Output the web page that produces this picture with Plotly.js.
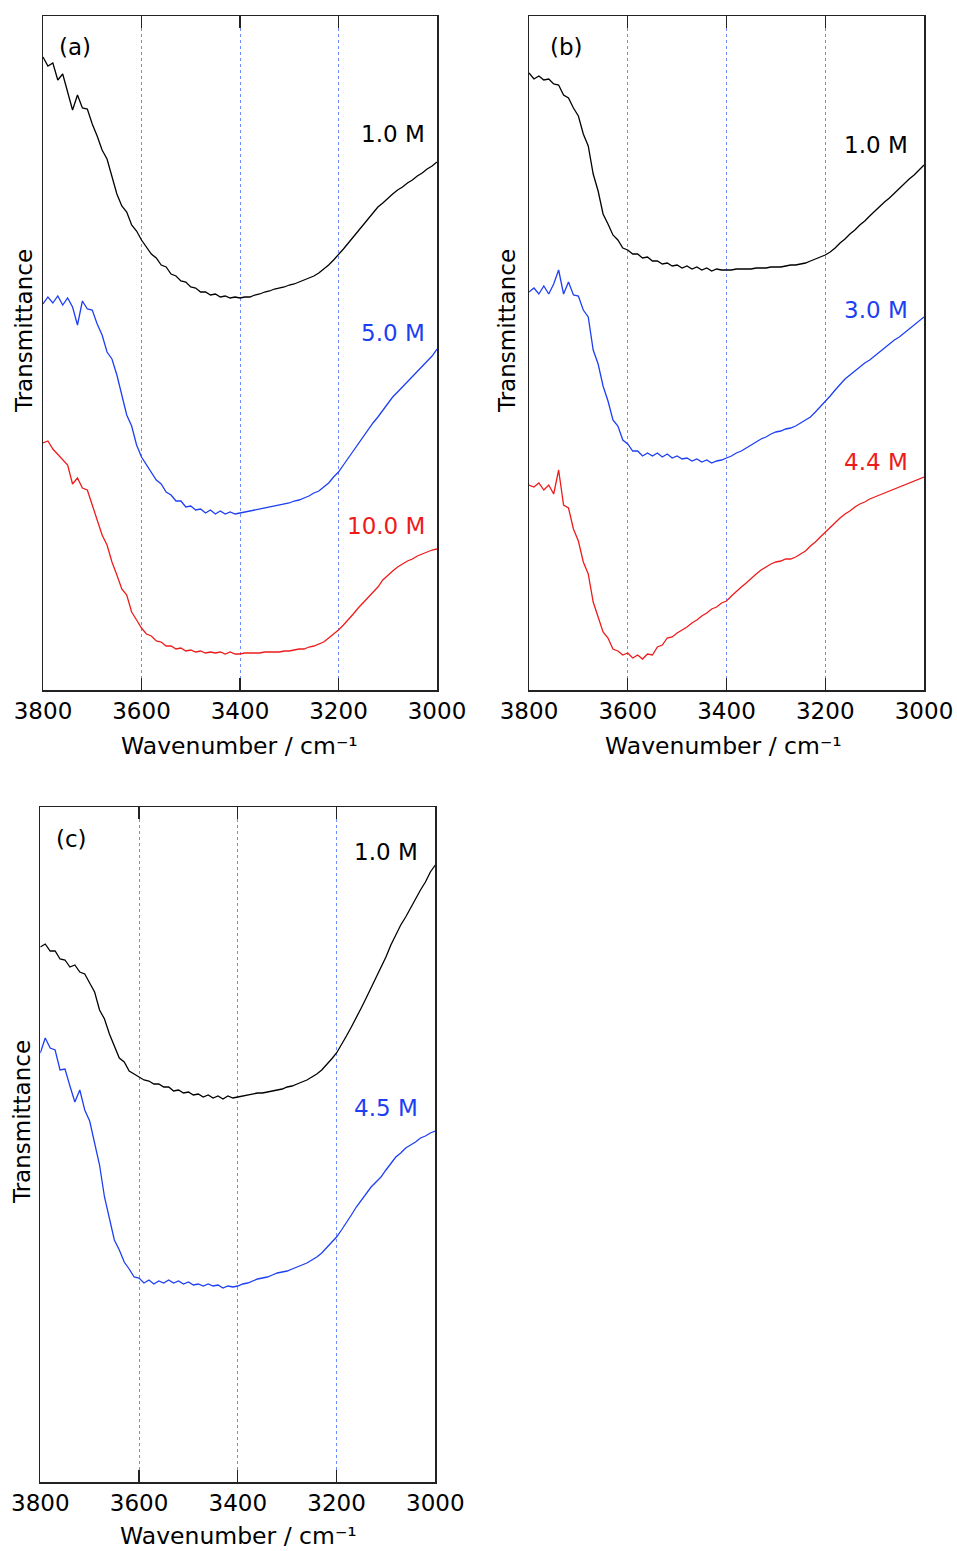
<!DOCTYPE html>
<html>
<head>
<meta charset="utf-8">
<script src="https://cdn.plot.ly/plotly-3.0.1.min.js"></script>
<style>
  html, body { margin: 0; padding: 0; background: #fff; }
  #chart { width: 957px; height: 1551px; }
</style>
</head>
<body>
<div id="chart"></div>
<script>
// Wavenumber grid (cm^-1), shared by every spectrum
const wavenumber = [
  3800, 3790, 3780, 3770, 3760, 3750, 3740, 3730, 3720, 3710,
  3700, 3690, 3680, 3670, 3660, 3650, 3640, 3630, 3620, 3610,
  3600, 3590, 3580, 3570, 3560, 3550, 3540, 3530, 3520, 3510,
  3500, 3490, 3480, 3470, 3460, 3450, 3440, 3430, 3420, 3410,
  3400, 3390, 3380, 3370, 3360, 3350, 3340, 3330, 3320, 3310,
  3300, 3290, 3280, 3270, 3260, 3250, 3240, 3230, 3220, 3210,
  3200, 3190, 3180, 3170, 3160, 3150, 3140, 3130, 3120, 3110,
  3100, 3090, 3080, 3070, 3060, 3050, 3040, 3030, 3020, 3010,
  3000
];

// Panel (a): transmittance (arb. units, offset spectra)
const a_1M = [
  63.3, 62.4, 62.7, 61.0, 61.6, 59.9, 58.0, 59.5, 58.2, 58.1,
  56.6, 55.4, 54.0, 53.1, 51.4, 49.6, 48.4, 47.8, 46.5, 45.9,
  45.0, 44.3, 43.6, 43.2, 42.5, 42.3, 41.6, 41.4, 40.9, 40.8,
  40.3, 40.2, 39.8, 39.8, 39.5, 39.6, 39.3, 39.4, 39.2, 39.3,
  39.2, 39.3, 39.3, 39.5, 39.6, 39.8, 39.9, 40.1, 40.2, 40.3,
  40.5, 40.6, 40.8, 41.0, 41.2, 41.4, 41.7, 42.1, 42.5, 43.0,
  43.5, 44.1, 44.7, 45.3, 46.0, 46.6, 47.2, 47.7, 48.3, 48.7,
  49.2, 49.6, 50.0, 50.3, 50.7, 51.0, 51.4, 51.7, 52.1, 52.4,
  52.8
];
const a_5M = [
  38.6, 39.3, 38.7, 39.4, 38.5, 39.2, 38.3, 36.5, 38.9, 38.1,
  38.0, 36.6, 35.5, 33.8, 33.1, 31.5, 29.5, 27.5, 26.4, 24.5,
  23.3, 22.5, 21.7, 21.0, 20.6, 19.8, 19.5, 18.9, 18.9, 18.3,
  18.4, 18.0, 18.1, 17.7, 18.0, 17.6, 17.9, 17.6, 17.8, 17.6,
  17.7, 17.8, 17.9, 18.0, 18.1, 18.2, 18.3, 18.4, 18.5, 18.6,
  18.7, 18.9, 19.0, 19.2, 19.4, 19.7, 19.9, 20.3, 20.7, 21.3,
  21.8, 22.5, 23.2, 23.9, 24.7, 25.4, 26.0, 26.7, 27.3, 28.0,
  28.7, 29.3, 29.8, 30.3, 30.8, 31.3, 31.8, 32.3, 32.8, 33.4,
  34.1
];
const a_10M = [
  24.7, 24.9, 24.1, 23.6, 23.1, 22.5, 20.6, 21.2, 20.2, 20.0,
  18.5, 16.9, 15.5, 14.5, 12.8, 11.5, 10.1, 9.5, 7.8, 7.0,
  6.2, 5.6, 5.4, 4.9, 4.8, 4.4, 4.4, 4.1, 4.2, 3.9,
  4.0, 3.8, 3.9, 3.7, 3.8, 3.7, 3.8, 3.6, 3.8, 3.6,
  3.6, 3.7, 3.7, 3.7, 3.7, 3.8, 3.8, 3.8, 3.8, 3.9,
  3.9, 4.0, 4.1, 4.1, 4.3, 4.4, 4.6, 4.8, 5.2, 5.6,
  6.0, 6.5, 7.0, 7.6, 8.2, 8.7, 9.3, 9.8, 10.3, 11.0,
  11.5, 11.9, 12.3, 12.6, 12.9, 13.1, 13.4, 13.6, 13.8, 14.0,
  14.1
];

// Panel (b)
const b_1M = [
  61.7, 61.1, 61.4, 61.0, 61.1, 60.6, 60.5, 59.5, 59.2, 58.2,
  57.4, 55.6, 54.4, 51.6, 49.9, 47.6, 46.6, 45.5, 45.0, 44.2,
  44.0, 43.6, 43.6, 43.2, 43.3, 42.9, 42.9, 42.6, 42.7, 42.4,
  42.5, 42.2, 42.4, 42.1, 42.3, 42.0, 42.2, 41.9, 42.1, 42.0,
  42.0, 42.0, 42.1, 42.1, 42.1, 42.1, 42.2, 42.2, 42.2, 42.3,
  42.3, 42.3, 42.4, 42.5, 42.5, 42.6, 42.7, 42.9, 43.1, 43.3,
  43.5, 43.8, 44.2, 44.7, 45.1, 45.6, 46.0, 46.5, 46.9, 47.4,
  47.9, 48.3, 48.8, 49.2, 49.7, 50.2, 50.6, 51.1, 51.5, 52.0,
  52.5
];
const b_3M = [
  39.8, 40.2, 39.6, 40.4, 39.6, 40.6, 42.0, 39.6, 40.8, 39.5,
  39.4, 38.0, 37.3, 34.0, 32.6, 30.4, 28.9, 27.0, 26.4, 25.0,
  24.6, 23.9, 23.9, 23.4, 23.7, 23.4, 23.7, 23.3, 23.6, 23.2,
  23.4, 23.1, 23.2, 22.9, 23.1, 22.8, 23.0, 22.7, 22.9, 23.0,
  23.2, 23.4, 23.7, 23.9, 24.2, 24.5, 24.8, 25.1, 25.3, 25.6,
  25.8, 25.9, 26.1, 26.2, 26.4, 26.7, 27.0, 27.3, 27.8, 28.3,
  28.8, 29.4, 30.0, 30.6, 31.1, 31.5, 31.9, 32.3, 32.7, 33.0,
  33.4, 33.8, 34.2, 34.6, 35.0, 35.3, 35.7, 36.1, 36.5, 36.9,
  37.3
];
const b_44M = [
  20.5, 20.3, 20.7, 20.0, 20.5, 19.6, 22.0, 18.5, 18.2, 16.1,
  14.9, 12.8, 11.6, 8.8, 7.3, 5.8, 5.2, 4.1, 3.9, 3.5,
  3.7, 3.2, 3.5, 3.1, 3.6, 3.5, 4.3, 4.5, 5.2, 5.3,
  5.7, 6.0, 6.3, 6.7, 7.0, 7.4, 7.7, 8.1, 8.3, 8.7,
  8.9, 9.4, 9.9, 10.3, 10.7, 11.2, 11.6, 12.0, 12.3, 12.6,
  12.8, 12.9, 13.1, 13.1, 13.3, 13.6, 13.9, 14.4, 14.8, 15.3,
  15.8, 16.3, 16.7, 17.2, 17.6, 17.9, 18.3, 18.6, 18.8, 19.1,
  19.3, 19.5, 19.7, 19.9, 20.1, 20.3, 20.5, 20.7, 20.9, 21.1,
  21.3
];

// Panel (c)
const c_1M = [
  53.5, 53.8, 53.1, 53.1, 52.3, 52.2, 51.5, 51.7, 51.0, 50.8,
  49.9, 49.0, 47.2, 46.3, 44.8, 43.6, 42.4, 42.0, 41.1, 40.8,
  40.5, 40.2, 40.1, 39.8, 39.8, 39.5, 39.5, 39.1, 39.2, 38.9,
  39.0, 38.7, 38.8, 38.5, 38.7, 38.4, 38.6, 38.3, 38.6, 38.4,
  38.5, 38.6, 38.7, 38.8, 38.9, 38.9, 39.0, 39.1, 39.2, 39.3,
  39.5, 39.6, 39.8, 40.0, 40.2, 40.5, 40.8, 41.2, 41.7, 42.3,
  42.9, 43.7, 44.6, 45.5, 46.4, 47.4, 48.4, 49.4, 50.5, 51.5,
  52.5, 53.7, 54.7, 55.7, 56.5, 57.4, 58.4, 59.2, 60.0, 61.0,
  61.7
];
const c_45M = [
  42.9, 44.4, 43.4, 43.2, 41.2, 41.3, 39.6, 38.0, 39.2, 37.2,
  36.1, 33.8, 31.7, 28.5, 26.4, 24.2, 23.2, 22.0, 21.3, 20.5,
  20.4, 19.9, 20.2, 19.8, 20.1, 19.9, 20.2, 19.9, 20.1, 19.8,
  20.0, 19.7, 19.8, 19.6, 19.8, 19.6, 19.7, 19.4, 19.6, 19.5,
  19.6, 19.8, 19.9, 20.1, 20.3, 20.4, 20.5, 20.7, 20.9, 21.0,
  21.1, 21.3, 21.5, 21.7, 21.9, 22.2, 22.5, 22.9, 23.4, 23.9,
  24.5, 25.2, 25.9, 26.7, 27.5, 28.2, 28.9, 29.5, 30.0, 30.5,
  31.2, 31.9, 32.5, 32.9, 33.4, 33.7, 34.0, 34.4, 34.6, 34.9,
  35.1
];

const panelLetters = ['(a)', '(b)', '(c)'];
const concLabels = {
  a: ['1.0 M', '5.0 M', '10.0 M'],
  b: ['1.0 M', '3.0 M', '4.4 M'],
  c: ['1.0 M', '4.5 M']
};
const xTicks = [3800, 3600, 3400, 3200, 3000];

// ---- styling ----
const W = 957, H = 1551;
const FONT = 'DejaVu Sans, Liberation Sans, Arial, sans-serif';
const BLACK = '#000000', BLUE = '#1d3ff2', RED = '#ee1b1b';
const px = v => v / W;             // horizontal pixel -> paper
const py = v => 1 - v / H;         // vertical pixel -> paper

function line(x, y, color, xa, ya) {
  return { x: x, y: y, type: 'scatter', mode: 'lines',
           line: { color: color, width: 1.3 }, xaxis: xa, yaxis: ya,
           hoverinfo: 'skip', showlegend: false };
}

const traces = [
  line(wavenumber, a_1M, BLACK, 'x', 'y'),
  line(wavenumber, a_5M, BLUE, 'x', 'y'),
  line(wavenumber, a_10M, RED, 'x', 'y'),
  line(wavenumber, b_1M, BLACK, 'x2', 'y2'),
  line(wavenumber, b_3M, BLUE, 'x2', 'y2'),
  line(wavenumber, b_44M, RED, 'x2', 'y2'),
  line(wavenumber, c_1M, BLACK, 'x3', 'y3'),
  line(wavenumber, c_45M, BLUE, 'x3', 'y3')
];

function xaxis(domain, anchor) {
  return {
    domain: domain, anchor: anchor,
    range: [3800, 3000], tickvals: xTicks,
    ticks: 'inside', ticklen: 12, tickwidth: 1.3, tickcolor: '#222',
    showline: true, linecolor: '#222', linewidth: 1.5, mirror: 'ticks',
    showgrid: true, gridcolor: 'rgb(110,140,255)', gridwidth: 1, griddash: 'dot',
    zeroline: false,
    tickfont: { family: FONT, size: 23, color: '#000' }
  };
}
function yaxis(domain, anchor, top) {
  return {
    domain: domain, anchor: anchor, range: [0, top],
    showticklabels: false, ticks: '', showgrid: false, zeroline: false,
    showline: true, linecolor: '#222', linewidth: 1.5, mirror: true
  };
}

// plot frames in pixels: [left, right, top, bottom]
const frames = {
  a: [43, 437, 16, 690],
  b: [529, 924, 16, 690],
  c: [40.3, 435.3, 807, 1482]
};
const dom = f => ({ x: [px(f[0]), px(f[1])], y: [py(f[3]), py(f[2])] });
const dA = dom(frames.a), dB = dom(frames.b), dC = dom(frames.c);

const annotations = [];
function txt(text, x, y, color, opts) {
  annotations.push(Object.assign({
    text: text, x: px(x), y: py(y), xref: 'paper', yref: 'paper',
    showarrow: false, xanchor: 'center', yanchor: 'middle',
    font: { family: FONT, size: 23, color: color }
  }, opts || {}));
}

// panel letters
txt(panelLetters[0], 57, 47, '#000', { xanchor: 'left' });
txt(panelLetters[1], 548, 47, '#000', { xanchor: 'left' });
txt(panelLetters[2], 54, 839, '#000', { xanchor: 'left' });

// concentration labels
txt(concLabels.a[0], 427, 134, BLACK, { xanchor: 'right' });
txt(concLabels.a[1], 427, 333, BLUE, { xanchor: 'right' });
txt(concLabels.a[2], 427, 526, RED, { xanchor: 'right' });
txt(concLabels.b[0], 910, 145, BLACK, { xanchor: 'right' });
txt(concLabels.b[1], 910, 310, BLUE, { xanchor: 'right' });
txt(concLabels.b[2], 910, 462, RED, { xanchor: 'right' });
txt(concLabels.c[0], 420, 852, BLACK, { xanchor: 'right' });
txt(concLabels.c[1], 420, 1108, BLUE, { xanchor: 'right' });

// axis titles
const xTitle = 'Wavenumber / cm\u207B\u00B9';
txt(xTitle, 240, 746, '#000', { font: { family: FONT, size: 23.5, color: '#000' } });
txt(xTitle, 723, 746, '#000', { font: { family: FONT, size: 23.5, color: '#000' } });
txt(xTitle, 238, 1536, '#000', { font: { family: FONT, size: 23.5, color: '#000' } });
txt('Transmittance', 24, 331, '#000', { textangle: -90 });
txt('Transmittance', 507, 331, '#000', { textangle: -90 });
txt('Transmittance', 22, 1122, '#000', { textangle: -90 });

const layout = {
  width: W, height: H,
  margin: { l: 0, r: 0, t: 0, b: 0 },
  paper_bgcolor: '#fff', plot_bgcolor: '#fff',
  showlegend: false,
  font: { family: FONT, color: '#000' },
  xaxis: xaxis(dA.x, 'y'),
  yaxis: yaxis(dA.y, 'x', 67.4),
  xaxis2: xaxis(dB.x, 'y2'),
  yaxis2: yaxis(dB.y, 'x2', 67.4),
  xaxis3: xaxis(dC.x, 'y3'),
  yaxis3: yaxis(dC.y, 'x3', 67.5),
  annotations: annotations
};

Plotly.newPlot('chart', traces, layout, { staticPlot: true, displayModeBar: false });
</script>
</body>
</html>
